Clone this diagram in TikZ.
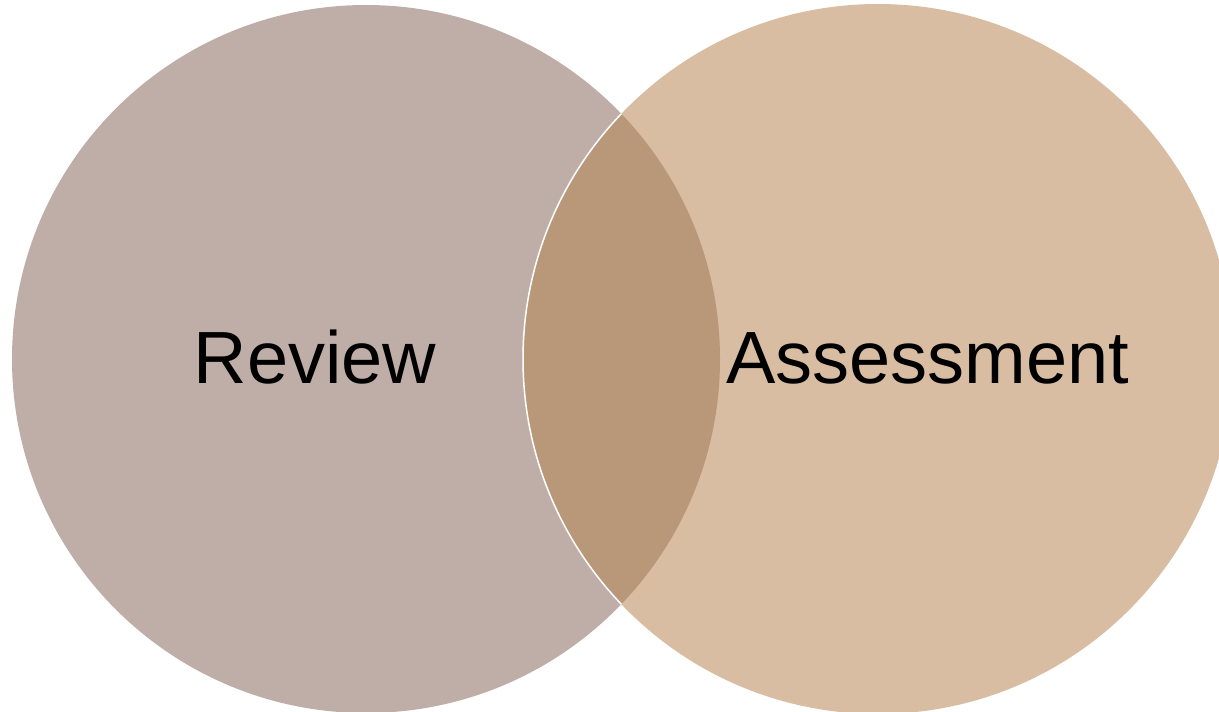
\documentclass[tikz,border=0pt]{standalone}
\usepackage{fontspec}
\setmainfont{Liberation Sans}
\usepackage{tikz}

\definecolor{reviewfill}{HTML}{BFAEA8}
\definecolor{assessfill}{HTML}{D8BDA3}
\definecolor{overlapfill}{HTML}{B89878}

\tikzset{
  setcircle/.style={circle, inner sep=0pt, minimum size=#1},
  setlabel/.style={anchor=base, inner sep=0pt, font=\fontsize{74}{88}\selectfont}
}

\begin{document}
\begin{tikzpicture}[x=1pt, y=-1pt]
    \useasboundingbox (0,0) rectangle (1219,712);

    % Review set
    \node[setcircle=708pt, fill=reviewfill] (review) at (366,359) {};

    % Assessment set
    \node[setcircle=710pt, fill=assessfill] (assessment) at (878,359) {};

    % Overlap of the two sets
    \begin{scope}
      \clip (review.center) circle (354pt);
      \fill[overlapfill] (assessment.center) circle (355pt);
      \draw[white, line width=1.5pt] (assessment.center) circle (355pt);
    \end{scope}

    % Labels
    \node[setlabel] (reviewtext) at (315,383) {Review};
    \node[setlabel] (assesstext) at (928,383) {Assessment};
\end{tikzpicture}
\end{document}
